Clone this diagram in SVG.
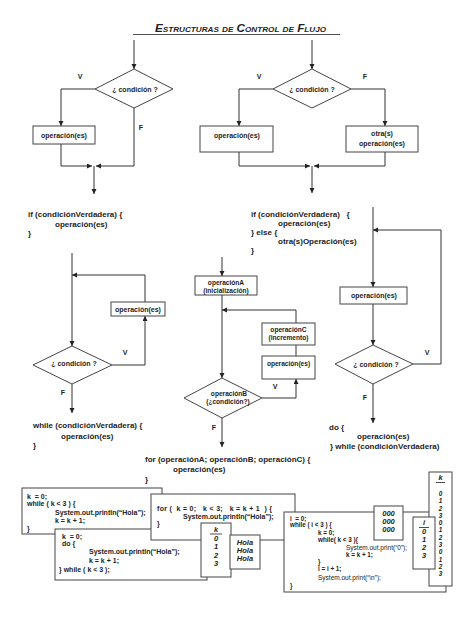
<svg xmlns="http://www.w3.org/2000/svg" width="474" height="632" viewBox="0 0 474 632">
<style>
.ln{fill:none;stroke:#333;stroke-width:1}
.bx{fill:#fff;stroke:#444;stroke-width:1}
text{font-family:"Liberation Sans",Arial,sans-serif;font-weight:bold;fill:#222}
.lb{font-size:7px}
.sm{font-size:6.6px}
.mid{text-anchor:middle}
.cd{font-size:8px}
.bc{font-size:7px}
.ic{font-size:6.3px}
.pr{font-size:6.5px;font-weight:normal}
.it{font-size:7.5px;font-style:italic;text-anchor:middle}
.kd{font-size:6.3px;font-style:italic;text-anchor:middle}
.ul{stroke:#222;stroke-width:0.8}
</style>
<defs>
<marker id="ah" markerWidth="6" markerHeight="6" refX="5" refY="2.5" orient="auto" markerUnits="userSpaceOnUse">
<path d="M0,0 L5,2.5 L0,5 z" fill="#222"/>
</marker>
</defs>
<rect width="474" height="632" fill="#fff"/>

<g id="title">
<text x="155" y="32" font-size="11.5" font-style="italic" font-variant="small-caps" textLength="171" lengthAdjust="spacingAndGlyphs">Estructuras de Control de Flujo</text>
<line x1="133" y1="34.5" x2="340" y2="34.5" class="ul"/>
</g>

<g id="connectors">
<path class="ln" d="M134,40 V69" marker-end="url(#ah)"/>
<path class="ln" d="M95,89 H61 V126" marker-end="url(#ah)"/>
<path class="ln" d="M134,108 V166 H96" marker-end="url(#ah)"/>
<path class="ln" d="M61,144 V166 H92" marker-end="url(#ah)"/>
<path class="ln" d="M94,166 V194" marker-end="url(#ah)"/>
<path class="ln" d="M312,40 V69" marker-end="url(#ah)"/>
<path class="ln" d="M273,89 H239 V126" marker-end="url(#ah)"/>
<path class="ln" d="M351,89 H385 V126" marker-end="url(#ah)"/>
<path class="ln" d="M239,152 V166 H310" marker-end="url(#ah)"/>
<path class="ln" d="M385,152 V166 H314" marker-end="url(#ah)"/>
<path class="ln" d="M312,166 V193" marker-end="url(#ah)"/>
<path class="ln" d="M72,253 V346" marker-end="url(#ah)"/>
<path class="ln" d="M112,365 H145 V316" marker-end="url(#ah)"/>
<path class="ln" d="M145,302 V275 H72" marker-end="url(#ah)"/>
<path class="ln" d="M72,384 V413" marker-end="url(#ah)"/>
<path class="ln" d="M222,257 V276" marker-end="url(#ah)"/>
<path class="ln" d="M222,295 V378" marker-end="url(#ah)"/>
<path class="ln" d="M262,398 H296 V379" marker-end="url(#ah)"/>
<path class="ln" d="M296,345 V356"/>
<path class="ln" d="M296,323 V310 H222" marker-end="url(#ah)"/>
<path class="ln" d="M222,418 V447" marker-end="url(#ah)"/>
<path class="ln" d="M373,207 V287" marker-end="url(#ah)"/>
<path class="ln" d="M373,304 V345" marker-end="url(#ah)"/>
<path class="ln" d="M413,364 H441 V230 H373" marker-end="url(#ah)"/>
<path class="ln" d="M373,384 V423" marker-end="url(#ah)"/>
</g>

<g id="if-cond">
<polygon class="bx" points="134,69 173,89 134,108 95,89"/>
<text class="lb mid" x="135" y="91.5">¿ condición ?</text>
</g>
<g id="if-op">
<rect class="bx" x="33" y="126" width="62" height="18"/>
<text class="lb mid" x="64" y="137.5">operación(es)</text>
</g>
<g id="if-labels">
<text class="lb mid" x="80" y="78.5">V</text>
<text class="lb mid" x="141" y="129.5">F</text>
<text class="cd" x="28" y="217">if (condiciónVerdadera) {</text>
<text class="cd" x="55" y="226.5">operación(es)</text>
<text class="cd" x="28" y="236">}</text>
</g>

<g id="ifelse-cond">
<polygon class="bx" points="312,69 351,89 312,108 273,89"/>
<text class="lb mid" x="312" y="91.5">¿ condición ?</text>
</g>
<g id="ifelse-op">
<rect class="bx" x="200" y="126" width="73" height="26"/>
<text class="lb mid" x="237" y="137.5">operación(es)</text>
</g>
<g id="ifelse-otra">
<rect class="bx" x="346" y="126" width="72" height="26"/>
<text class="lb mid" x="382" y="135.5">otra(s)</text>
<text class="lb mid" x="382" y="145.5">operación(es)</text>
</g>
<g id="ifelse-labels">
<text class="lb mid" x="259" y="78.5">V</text>
<text class="lb mid" x="365" y="78.5">F</text>
<text class="cd" x="251" y="216.5" xml:space="preserve">if (condiciónVerdadera)   {</text>
<text class="cd" x="278" y="226">operación(es)</text>
<text class="cd" x="251" y="235">} else {</text>
<text class="cd" x="278" y="243.5">otra(s)Operación(es)</text>
<text class="cd" x="251" y="252.5">}</text>
</g>

<g id="while-cond">
<polygon class="bx" points="72,346 112,365 72,384 33,365"/>
<text class="lb mid" x="74" y="366">¿ condición ?</text>
</g>
<g id="while-op">
<rect class="bx" x="111" y="302" width="54" height="14"/>
<text class="lb mid" x="138" y="311.5">operación(es)</text>
</g>
<g id="while-labels">
<text class="lb mid" x="125" y="354.5">V</text>
<text class="lb mid" x="63" y="394.5">F</text>
<text class="cd" x="33" y="428">while (condiciónVerdadera) {</text>
<text class="cd" x="61" y="439">operación(es)</text>
<text class="cd" x="33" y="448">}</text>
</g>

<g id="for-a">
<rect class="bx" x="195" y="276" width="62" height="19"/>
<text class="sm mid" x="226" y="284.5">operaciónA</text>
<text class="sm mid" x="226" y="292.5">(inicialización)</text>
</g>
<g id="for-c">
<rect class="bx" x="262" y="323" width="53" height="22"/>
<text class="sm mid" x="288.5" y="331.5">operaciónC</text>
<text class="sm mid" x="288.5" y="339.5">(incremento)</text>
</g>
<g id="for-op">
<rect class="bx" x="262" y="356" width="53" height="23"/>
<text class="sm mid" x="288.5" y="366">operación(es)</text>
</g>
<g id="for-cond">
<polygon class="bx" points="222,378 262,398 222,418 184,398"/>
<text class="sm mid" x="229" y="395.5">operaciónB</text>
<text class="sm mid" x="228" y="403.5">(¿condición?)</text>
</g>
<g id="for-labels">
<text class="lb mid" x="275" y="388.5">V</text>
<text class="lb mid" x="214" y="429.5">F</text>
<text class="cd" x="145" y="461.5">for (operaciónA; operaciónB; operaciónC) {</text>
<text class="cd" x="173" y="472">operación(es)</text>
<text class="cd" x="145" y="482">}</text>
</g>

<g id="dowhile-op">
<rect class="bx" x="340" y="287" width="67" height="17"/>
<text class="lb mid" x="374" y="298">operación(es)</text>
</g>
<g id="dowhile-cond">
<polygon class="bx" points="373,345 413,364 373,384 335,364"/>
<text class="lb mid" x="376" y="366.5">¿ condición ?</text>
</g>
<g id="dowhile-labels">
<text class="lb mid" x="427" y="354.5">V</text>
<text class="lb mid" x="365" y="399.5">F</text>
<text class="cd" x="329" y="430">do {</text>
<text class="cd" x="357" y="438.5">operación(es)</text>
<text class="cd" x="330" y="448.5">} while (condiciónVerdadera)</text>
</g>

<g id="code-while">
<rect class="bx" x="22" y="488" width="140" height="46"/>
<text class="bc" x="27" y="498.5" xml:space="preserve">k  = 0;</text>
<text class="bc" x="27" y="506" xml:space="preserve">while ( k &lt; 3 ) {</text>
<text class="bc" x="55" y="515">System.out.println(“Hola”);</text>
<text class="bc" x="55" y="522.5">k = k + 1;</text>
<text class="bc" x="27" y="531">}</text>
</g>
<g id="code-dowhile">
<rect class="bx" x="55" y="529" width="152" height="51"/>
<text class="bc" x="62" y="538.5" xml:space="preserve">k  = 0;</text>
<text class="bc" x="62" y="545.5">do {</text>
<text class="bc" x="89" y="554">System.out.println(“Hola”);</text>
<text class="bc" x="89" y="562.5">k = k + 1;</text>
<text class="bc" x="59" y="572">} while ( k &lt; 3 );</text>
</g>
<g id="code-for">
<rect class="bx" x="151" y="494" width="144" height="46"/>
<text class="bc" x="157" y="510.5" xml:space="preserve" textLength="115">for (  k = 0;   k &lt; 3;   k = k + 1  ) {</text>
<text class="bc" x="183" y="519">System.out.println(“Hola”);</text>
<text class="bc" x="157" y="526">}</text>
</g>
<g id="trace-k1">
<rect class="bx" x="201" y="523" width="30" height="54"/>
<text class="it" x="216" y="532">k</text>
<line class="ul" x1="210" y1="534" x2="222" y2="534"/>
<text class="it" x="216" y="541">0</text>
<text class="it" x="216" y="549">1</text>
<text class="it" x="216" y="557.5">2</text>
<text class="it" x="216" y="566">3</text>
</g>
<g id="out-hola">
<rect class="bx" x="230" y="535" width="30" height="34"/>
<text class="it" x="245" y="545">Hola</text>
<text class="it" x="245" y="553">Hola</text>
<text class="it" x="245" y="561">Hola</text>
</g>
<g id="code-nested">
<rect class="bx" x="284" y="512" width="162" height="80"/>
<text class="ic" x="290" y="520.5" xml:space="preserve">i  = 0;</text>
<text class="ic" x="290" y="527">while ( i &lt; 3 ) {</text>
<text class="ic" x="318" y="534.5">k = 0;</text>
<text class="ic" x="318" y="542">while( k &lt; 3 ){</text>
<text class="pr" x="346" y="549.5">System.out.print(“0”);</text>
<text class="ic" x="346" y="556.5">k = k + 1;</text>
<text class="ic" x="318" y="563.5">}</text>
<text class="ic" x="318" y="571">i = i + 1;</text>
<text class="pr" x="318" y="579.5">System.out.print(“\n”);</text>
<text class="ic" x="290" y="587.5">}</text>
</g>
<g id="out-000">
<rect class="bx" x="374" y="506" width="29" height="34"/>
<text class="it" x="388.5" y="516">000</text>
<text class="it" x="388.5" y="524">000</text>
<text class="it" x="388.5" y="532">000</text>
</g>
<g id="trace-k2">
<rect class="bx" x="429" y="472" width="23" height="114"/>
<text class="it" x="440.5" y="480">k</text>
<line class="ul" x1="436" y1="482.5" x2="445" y2="482.5"/>
<text class="kd" x="440.5" y="496">0</text>
<text class="kd" x="440.5" y="503.3">1</text>
<text class="kd" x="440.5" y="510.5">2</text>
<text class="kd" x="440.5" y="517.8">3</text>
<text class="kd" x="440.5" y="525.1">0</text>
<text class="kd" x="440.5" y="532.4">1</text>
<text class="kd" x="440.5" y="539.6">2</text>
<text class="kd" x="440.5" y="546.9">3</text>
<text class="kd" x="440.5" y="554.2">0</text>
<text class="kd" x="440.5" y="561.5">1</text>
<text class="kd" x="440.5" y="568.7">2</text>
<text class="kd" x="440.5" y="576">3</text>
</g>
<g id="trace-i">
<rect class="bx" x="413" y="517" width="22" height="52"/>
<text class="it" x="424" y="525">i</text>
<line class="ul" x1="419" y1="527.5" x2="429" y2="527.5"/>
<text class="it" x="424" y="534">0</text>
<text class="it" x="424" y="542">1</text>
<text class="it" x="424" y="550">2</text>
<text class="it" x="424" y="558">3</text>
</g>
</svg>
